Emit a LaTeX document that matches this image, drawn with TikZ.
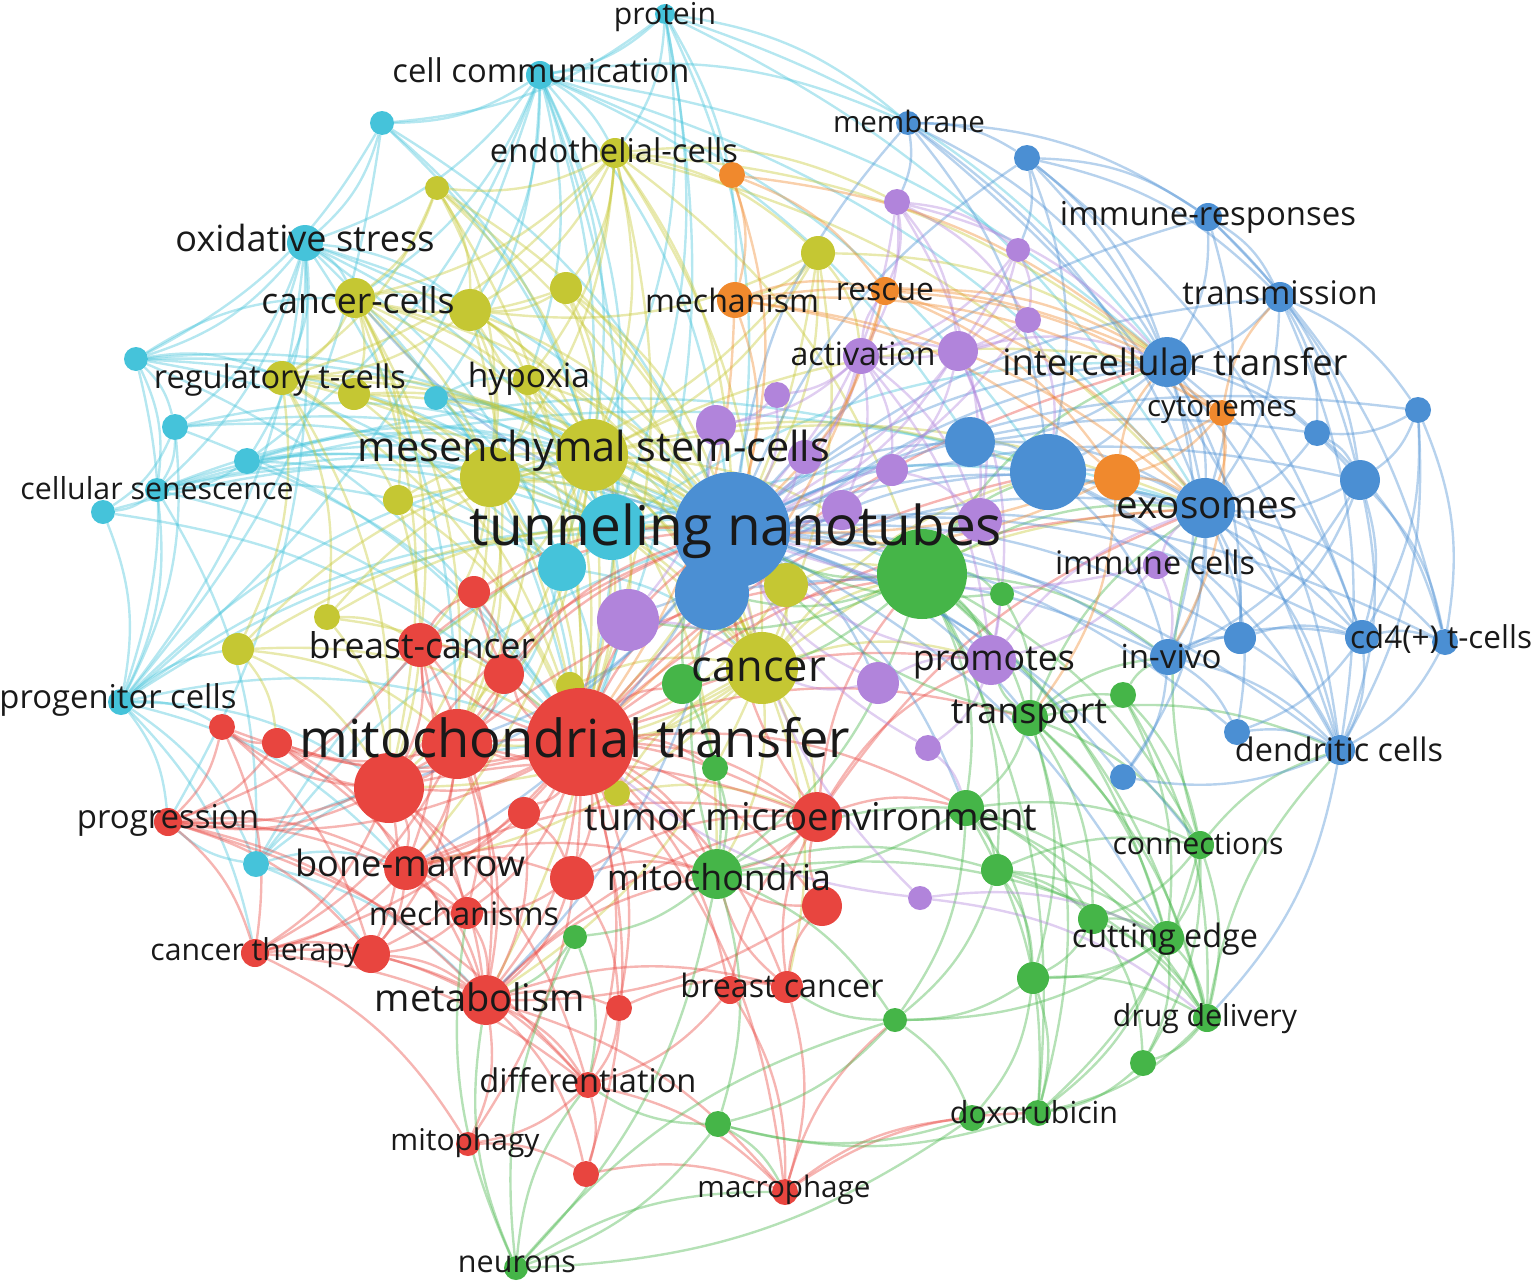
\documentclass[tikz,border=0pt]{standalone}
\usepackage{fontspec}
\setmainfont{Open Sans}
\usepackage{graphicx}
\usetikzlibrary{backgrounds}

\definecolor{vcyan}{RGB}{69,195,218}
\definecolor{vyellow}{RGB}{197,199,51}
\definecolor{vred}{RGB}{232,69,63}
\definecolor{vblue}{RGB}{75,143,211}
\definecolor{vgreen}{RGB}{69,181,72}
\definecolor{vpurple}{RGB}{177,132,219}
\definecolor{vorange}{RGB}{240,137,45}

% label text stretched to the width it has in the map
\newcommand{\wlabel}[2]{\resizebox{#1pt}{!}{#2}}

\begin{document}
\begin{tikzpicture}[x=1pt, y=-1pt,
    kw/.style={circle, inner sep=0pt, draw=none, fill=#1},
    lbl/.style={inner sep=0pt, text=black!90},
    link/.style={draw=#1, line width=2.4pt, draw opacity=.4, bend left=16}]

    \useasboundingbox (0,0) rectangle (1535,1282);

    % cyan cluster
    \node[kw=vcyan, minimum size=20pt] (protein) at (665,14) {};
    \node[kw=vcyan, minimum size=28pt] (cellcomm) at (540,75) {};
    \node[kw=vcyan, minimum size=24pt] (cyA) at (382,123) {};
    \node[kw=vcyan, minimum size=36pt] (oxstress) at (305,243) {};
    \node[kw=vcyan, minimum size=24pt] (cyB) at (136,359) {};
    \node[kw=vcyan, minimum size=24pt] (cyC) at (436,398) {};
    \node[kw=vcyan, minimum size=26pt] (cyD) at (175,427) {};
    \node[kw=vcyan, minimum size=26pt] (cyE) at (247,461) {};
    \node[kw=vcyan, minimum size=24pt] (senesc) at (157,490) {};
    \node[kw=vcyan, minimum size=24pt] (cyF) at (103,512) {};
    \node[kw=vcyan, minimum size=26pt] (progen) at (121,702) {};
    \node[kw=vcyan, minimum size=26pt] (cyG) at (256,864) {};
    \node[kw=vcyan, minimum size=48pt] (cyI) at (562,567) {};
    \node[kw=vcyan, minimum size=66pt] (cyH) at (612,527) {};

    % yellow cluster
    \node[kw=vyellow, minimum size=30pt] (endoth) at (615,153) {};
    \node[kw=vyellow, minimum size=24pt] (yeA) at (437,188) {};
    \node[kw=vyellow, minimum size=34pt] (yeB) at (818,253) {};
    \node[kw=vyellow, minimum size=32pt] (yeC) at (566,288) {};
    \node[kw=vyellow, minimum size=40pt] (cancells) at (355,298) {};
    \node[kw=vyellow, minimum size=42pt] (yeD) at (470,310) {};
    \node[kw=vyellow, minimum size=34pt] (tregs) at (282,378) {};
    \node[kw=vyellow, minimum size=32pt] (yeE) at (354,394) {};
    \node[kw=vyellow, minimum size=30pt] (hypoxia) at (528,380) {};
    \node[kw=vyellow, minimum size=30pt] (yeG) at (398,500) {};
    \node[kw=vyellow, minimum size=60pt] (yeF) at (490,477) {};
    \node[kw=vyellow, minimum size=72pt] (msc) at (592,455) {};
    \node[kw=vyellow, minimum size=44pt] (yeH) at (786,585) {};
    \node[kw=vyellow, minimum size=26pt] (yeI) at (327,617) {};
    \node[kw=vyellow, minimum size=32pt] (yeJ) at (238,649) {};
    \node[kw=vyellow, minimum size=28pt] (yeK) at (570,686) {};
    \node[kw=vyellow, minimum size=26pt] (yeL) at (617,793) {};
    \node[kw=vyellow, minimum size=72pt] (cancer) at (762,668) {};

    % red cluster
    \node[kw=vred, minimum size=30pt] (reC) at (277,743) {};
    \node[kw=vred, minimum size=26pt] (reD) at (222,727) {};
    \node[kw=vred, minimum size=44pt] (brcan1) at (420,645) {};
    \node[kw=vred, minimum size=32pt] (reE) at (474,592) {};
    \node[kw=vred, minimum size=40pt] (reF) at (504,674) {};
    \node[kw=vred, minimum size=32pt] (reG) at (524,813) {};
    \node[kw=vred, minimum size=28pt] (progr) at (168,822) {};
    \node[kw=vred, minimum size=44pt] (bonem) at (406,868) {};
    \node[kw=vred, minimum size=44pt] (reH) at (572,878) {};
    \node[kw=vred, minimum size=32pt] (mechs) at (467,913) {};
    \node[kw=vred, minimum size=28pt] (cther) at (255,953) {};
    \node[kw=vred, minimum size=38pt] (reI) at (371,954) {};
    \node[kw=vred, minimum size=50pt] (metab) at (486,1000) {};
    \node[kw=vred, minimum size=26pt] (reJ) at (619,1008) {};
    \node[kw=vred, minimum size=28pt] (brcan2a) at (730,990) {};
    \node[kw=vred, minimum size=32pt] (brcan2) at (787,987) {};
    \node[kw=vred, minimum size=40pt] (reK) at (822,906) {};
    \node[kw=vred, minimum size=50pt] (tme) at (817,817) {};
    \node[kw=vred, minimum size=26pt] (diff) at (588,1085) {};
    \node[kw=vred, minimum size=24pt] (mitoph) at (468,1144) {};
    \node[kw=vred, minimum size=26pt] (reL) at (586,1174) {};
    \node[kw=vred, minimum size=26pt] (macro) at (785,1192) {};
    \node[kw=vred, minimum size=70pt] (reB) at (389,788) {};
    \node[kw=vred, minimum size=70pt] (reA) at (457,744) {};

    % green cluster
    \node[kw=vgreen, minimum size=24pt] (grB) at (1002,594) {};
    \node[kw=vgreen, minimum size=40pt] (grC) at (682,684) {};
    \node[kw=vgreen, minimum size=26pt] (grD) at (715,768) {};
    \node[kw=vgreen, minimum size=36pt] (transp) at (1030,718) {};
    \node[kw=vgreen, minimum size=26pt] (grE) at (1123,695) {};
    \node[kw=vgreen, minimum size=36pt] (grF) at (966,808) {};
    \node[kw=vgreen, minimum size=50pt] (mitoch) at (717,874) {};
    \node[kw=vgreen, minimum size=24pt] (grG) at (575,937) {};
    \node[kw=vgreen, minimum size=32pt] (grH) at (997,870) {};
    \node[kw=vgreen, minimum size=28pt] (connect) at (1200,845) {};
    \node[kw=vgreen, minimum size=30pt] (grI) at (1093,919) {};
    \node[kw=vgreen, minimum size=34pt] (cutedge) at (1167,938) {};
    \node[kw=vgreen, minimum size=32pt] (grJ) at (1033,978) {};
    \node[kw=vgreen, minimum size=24pt] (grK) at (895,1020) {};
    \node[kw=vgreen, minimum size=28pt] (drugdel) at (1207,1018) {};
    \node[kw=vgreen, minimum size=26pt] (grL) at (1143,1063) {};
    \node[kw=vgreen, minimum size=26pt] (doxoA) at (972,1118) {};
    \node[kw=vgreen, minimum size=26pt] (doxo) at (1038,1113) {};
    \node[kw=vgreen, minimum size=26pt] (grM) at (718,1124) {};
    \node[kw=vgreen, minimum size=24pt] (neurons) at (516,1268) {};
    \node[kw=vgreen, minimum size=90pt] (grA) at (922,574) {};

    % blue cluster
    \node[kw=vblue, minimum size=24pt] (membr) at (908,123) {};
    \node[kw=vblue, minimum size=26pt] (blB) at (1027,158) {};
    \node[kw=vblue, minimum size=28pt] (immresp) at (1208,217) {};
    \node[kw=vblue, minimum size=30pt] (transm) at (1280,297) {};
    \node[kw=vblue, minimum size=50pt] (ict) at (1167,362) {};
    \node[kw=vblue, minimum size=26pt] (blC) at (1418,410) {};
    \node[kw=vblue, minimum size=26pt] (blD) at (1317,433) {};
    \node[kw=vblue, minimum size=40pt] (blE) at (1360,480) {};
    \node[kw=vblue, minimum size=50pt] (blF) at (970,442) {};
    \node[kw=vblue, minimum size=60pt] (exo) at (1205,508) {};
    \node[kw=vblue, minimum size=36pt] (invivo) at (1168,657) {};
    \node[kw=vblue, minimum size=32pt] (blH) at (1240,638) {};
    \node[kw=vblue, minimum size=34pt] (cd4a) at (1362,637) {};
    \node[kw=vblue, minimum size=26pt] (cd4) at (1445,642) {};
    \node[kw=vblue, minimum size=26pt] (blI) at (1237,732) {};
    \node[kw=vblue, minimum size=30pt] (dendr) at (1340,750) {};
    \node[kw=vblue, minimum size=26pt] (blJ) at (1123,777) {};
    \node[kw=vblue, minimum size=76pt] (blG) at (1048,472) {};

    % purple cluster
    \node[kw=vpurple, minimum size=26pt] (puA) at (897,202) {};
    \node[kw=vpurple, minimum size=24pt] (puB) at (1018,250) {};
    \node[kw=vpurple, minimum size=26pt] (puC) at (1028,320) {};
    \node[kw=vpurple, minimum size=36pt] (activ) at (861,356) {};
    \node[kw=vpurple, minimum size=40pt] (puD) at (958,351) {};
    \node[kw=vpurple, minimum size=26pt] (puE) at (777,395) {};
    \node[kw=vpurple, minimum size=40pt] (puF) at (716,425) {};
    \node[kw=vpurple, minimum size=34pt] (puG) at (805,457) {};
    \node[kw=vpurple, minimum size=32pt] (puH) at (892,470) {};
    \node[kw=vpurple, minimum size=40pt] (puI) at (842,510) {};
    \node[kw=vpurple, minimum size=44pt] (puJ) at (980,520) {};
    \node[kw=vpurple, minimum size=28pt] (immcell) at (1157,565) {};
    \node[kw=vpurple, minimum size=42pt] (puL) at (878,683) {};
    \node[kw=vpurple, minimum size=50pt] (promot) at (991,660) {};
    \node[kw=vpurple, minimum size=26pt] (puM) at (928,748) {};
    \node[kw=vpurple, minimum size=24pt] (puN) at (920,898) {};
    \node[kw=vpurple, minimum size=62pt] (puK) at (628,620) {};

    % orange cluster
    \node[kw=vorange, minimum size=26pt] (orA) at (732,175) {};
    \node[kw=vorange, minimum size=36pt] (mechan) at (735,300) {};
    \node[kw=vorange, minimum size=28pt] (rescue) at (885,291) {};
    \node[kw=vorange, minimum size=26pt] (cytonem) at (1222,413) {};
    \node[kw=vorange, minimum size=46pt] (orB) at (1117,477) {};

    % the two biggest on top
    \node[kw=vblue, minimum size=74pt] (blA) at (712,593) {};
    \node[kw=vblue, minimum size=116pt] (tnt) at (732,530) {};
    \node[kw=vred, minimum size=108pt] (mt) at (580,742) {};

    \begin{scope}[on background layer]
    \foreach \a/\b in {protein/cellcomm, protein/tnt, protein/msc, protein/cyH, protein/exo, protein/membr, protein/mechan, protein/ict, protein/cyA, protein/endoth, protein/mt,
        cellcomm/cyA, cellcomm/oxstress, cellcomm/tnt, cellcomm/msc, cellcomm/cyH, cellcomm/cyI, cellcomm/yeD, cellcomm/cancells, cellcomm/hypoxia, cellcomm/exo, cellcomm/ict, cellcomm/mt, cellcomm/cyC, cellcomm/endoth, cellcomm/blG, cellcomm/membr, cellcomm/progen, cellcomm/cyE, cellcomm/blF,
        cyA/oxstress, cyA/cyB, cyA/tnt, cyA/msc, cyA/progen, cyA/cyH,
        oxstress/cyB, oxstress/cyD, oxstress/cancells, oxstress/tregs, oxstress/yeD, oxstress/msc, oxstress/tnt, oxstress/mt, oxstress/cyH, oxstress/cyI, oxstress/senesc, oxstress/progen, oxstress/progr, oxstress/cyE, oxstress/reA,
        cyB/tregs, cyB/cyD, cyB/senesc, cyB/msc, cyB/tnt, cyB/mt, cyB/cancells, cyB/cyH, cyB/progen, cyB/cyI,
        cyC/tnt, cyC/msc, cyC/hypoxia, cyC/cyH, cyC/mt, cyC/cyI,
        cyD/senesc, cyD/cyF, cyD/progen, cyD/msc, cyD/tnt, cyD/cyH, cyD/mt,
        cyE/senesc, cyE/tnt, cyE/msc, cyE/mt, cyE/cyH, cyE/cyI, cyE/blG,
        senesc/cyF, senesc/progen, senesc/tnt, senesc/msc, senesc/mt, senesc/cyH, senesc/cyI, senesc/yeF, senesc/cyG, senesc/exo,
        cyF/progen, cyF/tnt, cyF/mt,
        progen/reD, progen/progr, progen/mt, progen/msc, progen/tnt, progen/reB, progen/cyG, progen/yeJ, progen/cyH, progen/bonem, progen/cther,
        cyG/progr, cyG/bonem, cyG/mt, cyG/reB, cyG/tnt, cyG/reI, cyG/cyH, cyG/metab,
        cyH/tnt, cyH/msc, cyH/mt, cyH/cancer, cyH/grA, cyH/exo, cyH/ict, cyH/blA,
        cyI/tnt, cyI/mt, cyI/msc, cyI/reA, cyI/cancer}
        \draw[link=vcyan] (\a) to (\b);

    \foreach \a/\b in {endoth/yeA, endoth/msc, endoth/cancells, endoth/yeD, endoth/yeC, endoth/tnt, endoth/mt, endoth/hypoxia, endoth/yeB, endoth/cancer, endoth/yeF, endoth/tregs, endoth/puA, endoth/ict, endoth/grA, endoth/exo,
        yeA/cancells, yeA/msc, yeA/yeD, yeA/tregs, yeA/tnt, yeA/mt, yeA/yeF, yeA/cancer,
        yeB/msc, yeB/tnt, yeB/cancer, yeB/mechan, yeB/activ, yeB/mt, yeB/yeD, yeB/ict, yeB/yeF,
        yeC/msc, yeC/tnt, yeC/yeD, yeC/mt, yeC/cancer, yeC/cancells,
        cancells/yeD, cancells/tregs, cancells/yeE, cancells/msc, cancells/yeF, cancells/tnt, cancells/mt, cancells/cancer, cancells/yeG, cancells/brcan1, cancells/reA, cancells/reB,
        yeD/msc, yeD/yeF, yeD/hypoxia, yeD/tnt, yeD/mt, yeD/cancer, yeD/tregs, yeD/reA,
        tregs/yeE, tregs/msc, tregs/yeF, tregs/yeG, tregs/mt, tregs/tnt, tregs/yeJ, tregs/yeI, tregs/reB, tregs/cancer,
        yeE/msc, yeE/yeF, yeE/tnt, yeE/mt,
        hypoxia/msc, hypoxia/tnt, hypoxia/mt, hypoxia/cancer, hypoxia/yeF, hypoxia/reA,
        msc/tnt, msc/mt, msc/cancer, msc/yeF, msc/yeH, msc/grA, msc/reA, msc/reB, msc/bonem, msc/brcan1, msc/exo, msc/ict, msc/blA, msc/puK, msc/metab, msc/tme, msc/mitoch, msc/blG,
        yeF/tnt, yeF/mt, yeF/reA, yeF/reB, yeF/cancer, yeF/brcan1,
        yeG/mt, yeG/msc, yeG/reB, yeG/tnt,
        yeH/tnt, yeH/cancer, yeH/mt, yeH/grA,
        cancer/tnt, cancer/mt, cancer/grA, cancer/tme, cancer/mitoch, cancer/exo, cancer/promot, cancer/brcan2, cancer/metab, cancer/reA, cancer/reB, cancer/blA, cancer/blG, cancer/bonem,
        yeI/mt, yeI/msc, yeI/tnt, yeI/reB, yeI/brcan1,
        yeJ/mt, yeJ/reA, yeJ/msc, yeJ/reB, yeJ/reC, yeJ/tnt,
        yeK/mt, yeK/cancer, yeL/mt, yeL/cancer, yeL/tme}
        \draw[link=vyellow] (\a) to (\b);

    \foreach \a/\b in {mt/tnt, mt/reA, mt/reB, mt/reC, mt/reD, mt/brcan1, mt/reE, mt/reF, mt/reG, mt/progr, mt/bonem, mt/reH, mt/mechs, mt/cther, mt/reI, mt/metab, mt/reJ, mt/brcan2, mt/brcan2a, mt/reK, mt/tme, mt/diff, mt/mitoph, mt/reL, mt/macro, mt/mitoch, mt/grA, mt/blA, mt/puK, mt/exo, mt/ict, mt/promot, mt/grC, mt/grD, mt/transp, mt/grF, mt/blG,
        reA/reB, reA/bonem, reA/metab, reA/tnt, reA/brcan1, reA/reC, reA/cther, reA/progr, reA/mechs, reA/reI, reA/tme, reA/grA, reA/mitoch,
        reB/bonem, reB/progr, reB/cther, reB/reI, reB/metab, reB/mechs, reB/reC, reB/reD, reB/tnt, reB/tme, reB/diff,
        reC/reD, reC/progr, reC/bonem, reC/metab, reD/progr, reD/cther, reD/reI,
        brcan1/reE, brcan1/reF, brcan1/tnt, brcan1/reB, brcan1/bonem, brcan1/metab, brcan1/progr,
        reE/tnt, reE/reF, reF/tnt, reF/reA,
        reG/reH, reG/bonem, reG/metab,
        progr/bonem, progr/cther, progr/reI, progr/metab, progr/mechs, progr/diff,
        bonem/reH, bonem/mechs, bonem/reI, bonem/metab, bonem/cther, bonem/mitoch, bonem/tme,
        reH/mechs, reH/metab, reH/mitoch, reH/reJ, reH/tme,
        mechs/metab, mechs/reI, cther/reI, cther/metab, cther/diff, cther/mitoph, reI/metab, reI/diff,
        metab/reJ, metab/diff, metab/mitoph, metab/reL, metab/brcan2, metab/macro, metab/mitoch, metab/tme,
        reJ/diff, reJ/brcan2, brcan2a/brcan2, brcan2a/macro, brcan2a/diff, brcan2a/tme,
        brcan2/macro, brcan2/tme, brcan2/reK, brcan2/mitoch, reK/tme, reK/mitoch, reK/metab,
        tme/tnt, tme/grA, tme/grF, tme/mitoch, tme/promot, tme/exo,
        diff/mitoph, diff/reL, diff/macro, mitoph/reL, reL/macro, macro/doxo, macro/grK, macro/doxoA}
        \draw[link=vred] (\a) to (\b);

    \foreach \a/\b in {grA/tnt, grA/grB, grA/grC, grA/transp, grA/grF, grA/promot, grA/exo, grA/ict, grA/mitoch, grA/blA, grA/cutedge, grA/connect, grA/drugdel, grA/puK, grA/grH, grA/invivo, grA/blG, grA/doxo,
        grB/tnt, grB/transp, grC/tnt, grC/mitoch, grD/mitoch, grD/tnt,
        transp/grE, transp/grF, transp/promot, transp/connect, transp/cutedge, transp/invivo, transp/exo, transp/tnt, transp/drugdel, transp/grI, transp/grJ, transp/dendr, transp/doxo,
        grE/connect, grE/invivo, grE/cutedge, grE/drugdel,
        grF/grH, grF/connect, grF/cutedge, grF/grI, grF/grJ, grF/mitoch, grF/drugdel, grF/doxo, grF/grK,
        mitoch/grG, mitoch/grH, mitoch/grK, mitoch/grM, mitoch/tnt, mitoch/grF, mitoch/neurons, mitoch/cutedge,
        grG/metab, grG/diff,
        grH/cutedge, grH/grI, grH/connect, grH/grJ, grH/drugdel, grH/grK,
        connect/cutedge, connect/drugdel, connect/grI, connect/grL, connect/exo, connect/dendr, connect/doxo,
        grI/cutedge, grI/grJ, grI/drugdel, grI/grL,
        cutedge/drugdel, cutedge/grJ, cutedge/grL, cutedge/doxo, cutedge/grK,
        grJ/drugdel, grJ/doxo, grJ/grK, grJ/doxoA,
        grK/grM, grK/doxoA, grK/brcan2,
        drugdel/grL, drugdel/doxo, grL/doxo, drugdel/dendr,
        doxoA/doxo, doxoA/grM, doxoA/neurons,
        doxo/grM, grM/neurons, grM/diff, grM/macro,
        neurons/metab, neurons/mechs, neurons/grG, neurons/diff, neurons/macro, neurons/grK}
        \draw[link=vgreen] (\a) to (\b);

    \foreach \a/\b in {tnt/blA, tnt/membr, tnt/blB, tnt/immresp, tnt/transm, tnt/ict, tnt/blC, tnt/blD, tnt/blE, tnt/blF, tnt/blG, tnt/exo, tnt/invivo, tnt/blH, tnt/cd4a, tnt/cd4, tnt/blI, tnt/dendr, tnt/blJ, tnt/puK, tnt/puF, tnt/reA, tnt/reB, tnt/bonem, tnt/metab, tnt/transp, tnt/connect, tnt/cutedge, tnt/promot, tnt/puL, tnt/cancells, tnt/grF,
        blA/ict, blA/exo, blA/blG, blA/invivo,
        membr/blB, membr/ict, membr/immresp, membr/puA, membr/blG, membr/dendr, membr/exo,
        blB/immresp, blB/ict, blB/exo, blB/transm, blB/puB, blB/blG, blB/cd4a,
        immresp/ict, immresp/transm, immresp/exo, immresp/blE, immresp/cd4,
        transm/ict, transm/blE, transm/blC, transm/exo, transm/blD, transm/dendr,
        ict/blG, ict/exo, ict/blF, ict/blE, ict/blD, ict/invivo, ict/cd4a, ict/dendr, ict/blH,
        blC/blE, blC/cd4a, blC/cd4, blC/blD, blC/dendr, blD/blE, blD/exo, blD/cd4,
        blE/exo, blE/cd4a, blE/cd4, blE/dendr, blE/invivo, blE/blH,
        blF/blG, blF/exo,
        blG/exo, blG/invivo, blG/cd4a, blG/dendr, blG/blH,
        exo/invivo, exo/blH, exo/cd4a, exo/cd4, exo/dendr, exo/blI, exo/blJ,
        invivo/blH, invivo/cd4a, invivo/dendr, invivo/blI, invivo/blJ,
        blH/cd4a, blH/dendr, cd4a/cd4, cd4a/dendr, cd4a/blI, cd4/dendr, blI/dendr, dendr/blJ, dendr/drugdel}
        \draw[link=vblue] (\a) to (\b);

    \foreach \a/\b in {puA/puB, puA/activ, puA/puD, puA/puC, puA/tnt, puA/ict, puA/rescue, puA/puJ,
        puB/puC, puB/activ, puB/puD, puB/tnt, puC/activ, puC/puD, puC/tnt, puC/blG,
        activ/puD, activ/puE, activ/puF, activ/puG, activ/tnt, activ/rescue, activ/puH, activ/puI, activ/puJ, activ/promot,
        puD/tnt, puD/puH, puD/puJ, puD/ict, puD/promot,
        puE/tnt, puE/puF, puF/puK, puG/tnt, puH/tnt, puH/puJ, puI/tnt, puJ/tnt, puJ/promot,
        puK/cancer, immcell/exo, immcell/tnt, immcell/promot, immcell/invivo,
        puL/tnt, puL/promot, puL/cancer,
        promot/tnt, promot/puM, puM/tnt, puM/grF, promot/exo,
        puN/tnt, puN/mt, puN/cutedge, puN/drugdel}
        \draw[link=vpurple] (\a) to (\b);

    \foreach \a/\b in {orA/mechan, orA/tnt, orA/rescue, orA/ict,
        mechan/rescue, mechan/tnt, mechan/mt, mechan/cytonem, mechan/orB, mechan/ict, mechan/exo,
        rescue/tnt, rescue/mt, rescue/cytonem, rescue/orB, rescue/ict, rescue/exo,
        cytonem/orB, cytonem/ict, cytonem/exo, cytonem/tnt, cytonem/invivo, cytonem/transm,
        orB/tnt, orB/exo, orB/ict, orB/transp}
        \draw[link=vorange] (\a) to (\b);
    \end{scope}

    % labels
    \node[lbl] (protein-l) at (665,17) {\wlabel{102}{protein}};
    \node[lbl] (cellcomm-l) at (541,70) {\wlabel{297}{cell communication}};
    \node[lbl] (endoth-l) at (614,150) {\wlabel{248}{endothelial-cells}};
    \node[lbl] (membr-l) at (909,121) {\wlabel{152}{membrane}};
    \node[lbl] (immresp-l) at (1208,217) {\wlabel{296}{immune-responses}};
    \node[lbl] (oxstress-l) at (305,238) {\wlabel{259}{oxidative stress}};
    \node[lbl] (transm-l) at (1280,293) {\wlabel{195}{transmission}};
    \node[lbl] (cancells-l) at (358,300) {\wlabel{193}{cancer-cells}};
    \node[lbl] (mechan-l) at (732,300) {\wlabel{174}{mechanism}};
    \node[lbl] (rescue-l) at (885,292) {\wlabel{98}{rescue}};
    \node[lbl] (activ-l) at (863,354) {\wlabel{145}{activation}};
    \node[lbl] (ict-l) at (1175,362) {\wlabel{345}{intercellular transfer}};
    \node[lbl] (tregs-l) at (280,380) {\wlabel{252}{regulatory t-cells}};
    \node[lbl] (hypoxia-l) at (529,379) {\wlabel{122}{hypoxia}};
    \node[lbl] (cytonem-l) at (1222,410) {\wlabel{150}{cytonemes}};
    \node[lbl] (msc-l) at (594,451) {\wlabel{472}{mesenchymal stem-cells}};
    \node[lbl] (senesc-l) at (157,488) {\wlabel{273}{cellular senescence}};
    \node[lbl] (exo-l) at (1207,508) {\wlabel{181}{exosomes}};
    \node[lbl] (tnt-l) at (736,531) {\wlabel{532}{tunneling nanotubes}};
    \node[lbl] (immcell-l) at (1155,562) {\wlabel{200}{immune cells}};
    \node[lbl] (brcan1-l) at (422,645) {\wlabel{226}{breast-cancer}};
    \node[lbl] (cd4-l) at (1441,639) {\wlabel{182}{cd4(+) t-cells}};
    \node[lbl] (invivo-l) at (1171,656) {\wlabel{101}{in-vivo}};
    \node[lbl] (promot-l) at (994,663) {\wlabel{162}{promotes}};
    \node[lbl] (cancer-l) at (759,670) {\wlabel{134}{cancer}};
    \node[lbl] (progen-l) at (118,700) {\wlabel{237}{progenitor cells}};
    \node[lbl] (transp-l) at (1029,716) {\wlabel{156}{transport}};
    \node[lbl] (mt-l) at (575,738) {\wlabel{550}{mitochondrial transfer}};
    \node[lbl] (dendr-l) at (1339,749) {\wlabel{208}{dendritic cells}};
    \node[lbl] (tme-l) at (811,817) {\wlabel{453}{tumor microenvironment}};
    \node[lbl] (progr-l) at (168,820) {\wlabel{182}{progression}};
    \node[lbl] (connect-l) at (1198,844) {\wlabel{171}{connections}};
    \node[lbl] (bonem-l) at (410,863) {\wlabel{230}{bone-marrow}};
    \node[lbl] (mitoch-l) at (719,877) {\wlabel{224}{mitochondria}};
    \node[lbl] (mechs-l) at (464,913) {\wlabel{190}{mechanisms}};
    \node[lbl] (cutedge-l) at (1165,939) {\wlabel{186}{cutting edge}};
    \node[lbl] (cther-l) at (255,953) {\wlabel{209}{cancer therapy}};
    \node[lbl] (brcan2-l) at (782,985) {\wlabel{203}{breast cancer}};
    \node[lbl] (metab-l) at (480,997) {\wlabel{210}{metabolism}};
    \node[lbl] (drugdel-l) at (1205,1019) {\wlabel{184}{drug delivery}};
    \node[lbl] (diff-l) at (588,1080) {\wlabel{217}{differentiation}};
    \node[lbl] (doxo-l) at (1034,1112) {\wlabel{168}{doxorubicin}};
    \node[lbl] (mitoph-l) at (465,1143) {\wlabel{149}{mitophagy}};
    \node[lbl] (macro-l) at (784,1190) {\wlabel{173}{macrophage}};
    \node[lbl] (neurons-l) at (517,1264) {\wlabel{118}{neurons}};
\end{tikzpicture}
\end{document}
